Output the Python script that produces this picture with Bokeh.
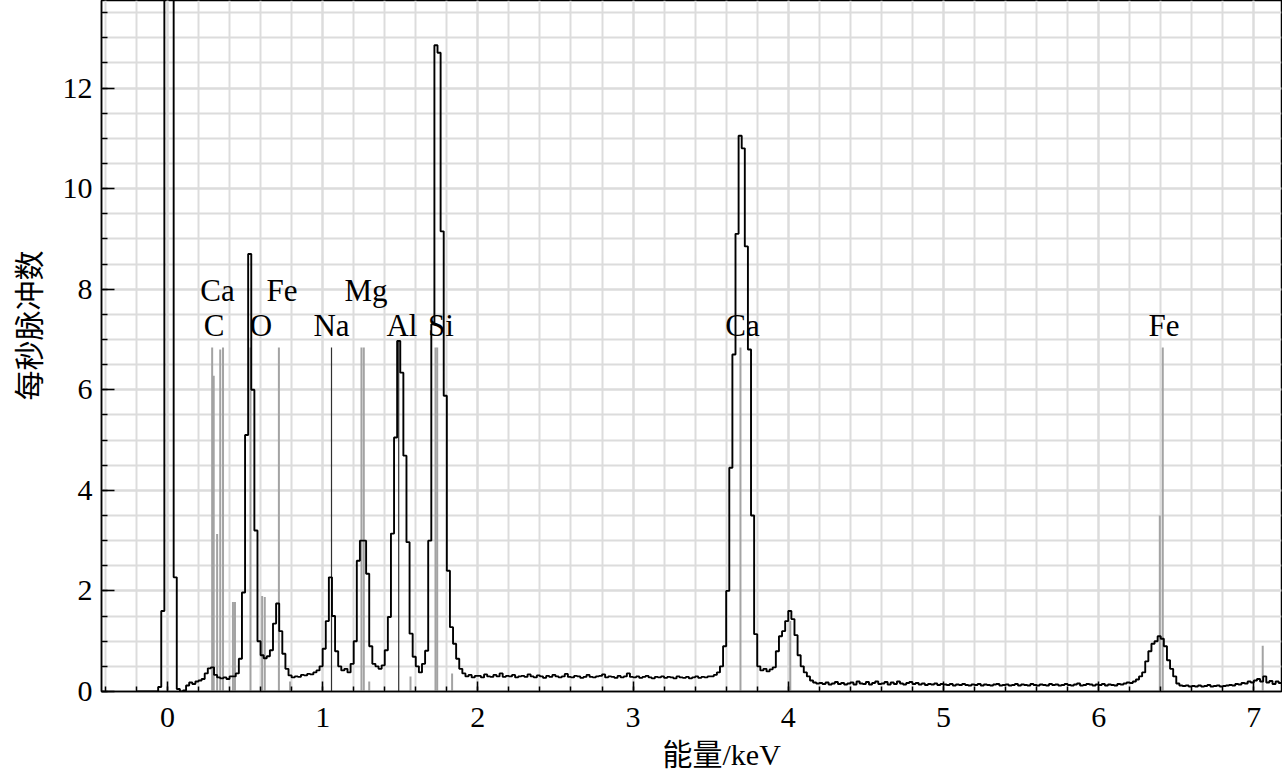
import math
from bokeh.plotting import figure
from bokeh.models import Range1d, SingleIntervalTicker, Title
from bokeh.core.properties import value
from bokeh.embed import file_html
from bokeh.resources import INLINE

# ---------------- data ----------------
# spectrum channels: first channel starts at -0.20 keV, 0.02 keV per channel
chan_start = -0.20
chan_width = 0.02
# counts per second, 10 channels (0.2 keV) per row
cps = [
    0, 0, 0, 0, 0, 0, 0, 0.09, 1.6, 20,                       # -0.2 .. 0.0
    20, 20, 2.27, 0.05, 0.0, 0.02, 0.12, 0.18, 0.15, 0.2,      # 0.0 .. 0.2
    0.22, 0.25, 0.36, 0.46, 0.48, 0.33, 0.28, 0.26, 0.28, 0.25, # 0.2 .. 0.4
    0.3, 0.3, 0.36, 0.65, 1.97, 5.1, 8.7, 6.0, 3.2, 1.0,       # 0.4 .. 0.6
    0.72, 0.66, 0.7, 0.82, 1.35, 1.75, 1.2, 0.75, 0.45, 0.32,  # 0.6 .. 0.8
    0.28, 0.3, 0.29, 0.33, 0.32, 0.35, 0.34, 0.38, 0.42, 0.5,  # 0.8 .. 1.0
    0.85, 1.4, 2.27, 1.5, 0.8, 0.5, 0.42, 0.45, 0.38, 0.55,    # 1.0 .. 1.2
    1.0, 2.6, 3.0, 3.0, 2.34, 0.9, 0.55, 0.5, 0.45, 0.52,      # 1.2 .. 1.4
    0.82, 1.48, 3.14, 5.05, 6.97, 6.34, 4.69, 2.97, 1.15, 0.69, # 1.4 .. 1.6
    0.5, 0.38, 0.55, 0.81, 3.0, 7.3, 12.85, 12.7, 9.15, 5.88,  # 1.6 .. 1.8
    2.4, 1.28, 0.95, 0.65, 0.45, 0.36, 0.3, 0.33, 0.28, 0.31,  # 1.8 .. 2.0
    0.31, 0.28, 0.34, 0.3, 0.29, 0.33, 0.3, 0.36, 0.29, 0.31,  # 2.0 .. 2.2
    0.3, 0.33, 0.28, 0.3, 0.31, 0.29, 0.34, 0.3, 0.28, 0.32,   # 2.2 .. 2.4
    0.3, 0.27, 0.31, 0.29, 0.33, 0.3, 0.28, 0.3, 0.35, 0.29,   # 2.4 .. 2.6
    0.28, 0.31, 0.3, 0.27, 0.29, 0.33, 0.29, 0.28, 0.3, 0.31,  # 2.6 .. 2.8
    0.34, 0.28, 0.3, 0.29, 0.27, 0.31, 0.28, 0.3, 0.36, 0.29,  # 2.8 .. 3.0
    0.28, 0.3, 0.27, 0.29, 0.31, 0.28, 0.26, 0.29, 0.28, 0.3,  # 3.0 .. 3.2
    0.27, 0.29, 0.28, 0.26, 0.3, 0.28, 0.27, 0.29, 0.26, 0.28, # 3.2 .. 3.4
    0.3, 0.27, 0.29, 0.28, 0.3, 0.3, 0.33, 0.38, 0.5, 0.9,     # 3.4 .. 3.6
    2.0, 4.45, 6.7, 9.1, 11.05, 10.8, 8.85, 6.8, 3.5, 1.14,    # 3.6 .. 3.8
    0.5, 0.42, 0.45, 0.4, 0.44, 0.48, 0.8, 1.1, 1.2, 1.4,      # 3.8 .. 4.0
    1.6, 1.44, 1.12, 0.72, 0.5, 0.38, 0.3, 0.22, 0.18, 0.16,   # 4.0 .. 4.2
    0.17, 0.15, 0.18, 0.14, 0.16, 0.19, 0.15, 0.17, 0.14, 0.16, # 4.2 .. 4.4
    0.18, 0.14, 0.2, 0.16, 0.15, 0.19, 0.14, 0.17, 0.2, 0.15,  # 4.4 .. 4.6
    0.16, 0.19, 0.14, 0.18, 0.15, 0.2, 0.16, 0.14, 0.17, 0.19, # 4.6 .. 4.8
    0.15, 0.17, 0.14, 0.16, 0.13, 0.15, 0.14, 0.16, 0.13, 0.15, # 4.8 .. 5.0
    0.14, 0.13, 0.15, 0.12, 0.14, 0.13, 0.15, 0.13, 0.12, 0.14, # 5.0 .. 5.2
    0.13, 0.15, 0.12, 0.14, 0.13, 0.12, 0.14, 0.15, 0.12, 0.13, # 5.2 .. 5.4
    0.14, 0.12, 0.13, 0.15, 0.12, 0.14, 0.13, 0.12, 0.15, 0.13, # 5.4 .. 5.6
    0.12, 0.14, 0.13, 0.12, 0.15, 0.13, 0.14, 0.12, 0.13, 0.15, # 5.6 .. 5.8
    0.13, 0.12, 0.14, 0.16, 0.12, 0.13, 0.15, 0.14, 0.12, 0.14, # 5.8 .. 6.0
    0.13, 0.15, 0.12, 0.14, 0.13, 0.12, 0.15, 0.14, 0.16, 0.18, # 6.0 .. 6.2
    0.17, 0.2, 0.24, 0.3, 0.38, 0.6, 0.8, 0.95, 1.0, 1.1,      # 6.2 .. 6.4
    1.05, 0.9, 0.62, 0.45, 0.3, 0.16, 0.12, 0.11, 0.12, 0.1,   # 6.4 .. 6.6
    0.11, 0.1, 0.12, 0.1, 0.11, 0.13, 0.1, 0.11, 0.12, 0.1,    # 6.6 .. 6.8
    0.11, 0.12, 0.13, 0.12, 0.15, 0.14, 0.17, 0.16, 0.2, 0.18, # 6.8 .. 7.0
    0.22, 0.25, 0.2, 0.3, 0.18, 0.21, 0.15, 0.2, 0.17, 0.19,   # 7.0 .. 7.2
]

# element line markers (keV, marker height)
marker_e = [0.288, 0.298, 0.320, 0.340, 0.358, 0.422, 0.435, 0.535, 0.610, 0.627,
            0.718, 0.790, 1.250, 1.265, 1.300, 1.566, 1.727, 1.738, 1.834,
            3.692, 4.013, 6.394, 6.413, 7.057]
marker_h = [6.84, 6.28, 3.13, 6.80, 6.84, 1.78, 1.78, 6.84, 1.90, 1.88,
            6.84, 0.20, 6.84, 6.84, 0.20, 0.30, 6.84, 6.84, 0.36,
            6.84, 1.40, 3.50, 6.84, 0.91]
key_e = [1.057, 1.490]
key_h = [6.84, 6.97]

# element labels
upper_labels = ["Ca", "Fe", "Mg"]
upper_x = [0.322, 0.738, 1.279]
lower_labels = ["C", "O", "Na", "Al", "Si", "Ca", "Fe"]
lower_x = [0.300, 0.602, 1.057, 1.511, 1.762, 3.705, 6.421]

x_title = "能量/keV"
y_title = "每秒脉冲数"

# ---------------- figure ----------------
SERIF = "Liberation Serif, Noto Sans CJK SC"

p = figure(width=1282, height=777,
           x_range=Range1d(-0.425, 7.178), y_range=Range1d(0, 13.74),
           output_backend="svg", toolbar_location=None,
           min_border_left=101, min_border_right=1,
           min_border_top=0, min_border_bottom=86)
p.outline_line_color = "black"
p.outline_line_width = 1.5
p.background_fill_color = "white"
p.border_fill_color = "white"

xt = SingleIntervalTicker(interval=1, num_minor_ticks=5)
yt = SingleIntervalTicker(interval=2, num_minor_ticks=4)
p.xaxis.ticker = xt
p.yaxis.ticker = yt
p.xgrid.ticker = xt
p.ygrid.ticker = yt
for g in (p.xgrid, p.ygrid):
    g.grid_line_color = "#dcdcdc"
    g.grid_line_width = 2
    g.minor_grid_line_color = "#dcdcdc"
    g.minor_grid_line_width = 2

for ax in (p.xaxis, p.yaxis):
    ax.axis_line_color = "black"
    ax.axis_line_width = 1.5
    ax.major_tick_line_color = "black"
    ax.minor_tick_line_color = "black"
    ax.major_tick_line_width = 1.5
    ax.minor_tick_line_width = 1.5
    ax.major_tick_out = 0
    ax.minor_tick_out = 0
    ax.major_label_text_font = SERIF
    ax.major_label_text_font_size = "30px"
    ax.major_label_text_color = "black"
p.xaxis.major_tick_in = 10
p.xaxis.minor_tick_in = 5
p.yaxis.major_tick_in = 13
p.yaxis.minor_tick_in = 6
p.xaxis.major_label_standoff = 16
p.yaxis.major_label_standoff = 9

# axis titles as side titles (offset to match the reference placement)
p.add_layout(Title(text=x_title, align="left", offset=561, standoff=12,
                   text_font=SERIF, text_font_size="30px",
                   text_font_style="normal", text_color="black"), "below")
p.add_layout(Title(text=y_title, align="left", offset=291, standoff=23,
                   vertical_align="top",
                   text_font=SERIF, text_font_size="30px",
                   text_font_style="normal", text_color="black"), "left")

# element markers
p.segment(x0=marker_e, y0=[0] * len(marker_e), x1=marker_e, y1=marker_h,
          line_color="#a3a3a3", line_width=2)
p.segment(x0=key_e, y0=[0] * len(key_e), x1=key_e, y1=key_h,
          line_color="#303030", line_width=1.2)

# spectrum as a stair line
xs, ys = [], []
for i, v in enumerate(cps):
    left = chan_start + i * chan_width
    xs += [left, left + chan_width]
    ys += [v, v]
p.line(xs, ys, line_color="black", line_width=1.9)

# labels
p.text(x=upper_x, y=[7.97] * len(upper_x), text=upper_labels,
       text_font=value(SERIF), text_font_size="31px",
       text_align="center", text_baseline="alphabetic", text_color="black")
p.text(x=lower_x, y=[7.27] * len(lower_x), text=lower_labels,
       text_font=value(SERIF), text_font_size="31px",
       text_align="center", text_baseline="alphabetic", text_color="black")

open("out.html", "w").write(file_html(p, INLINE))
